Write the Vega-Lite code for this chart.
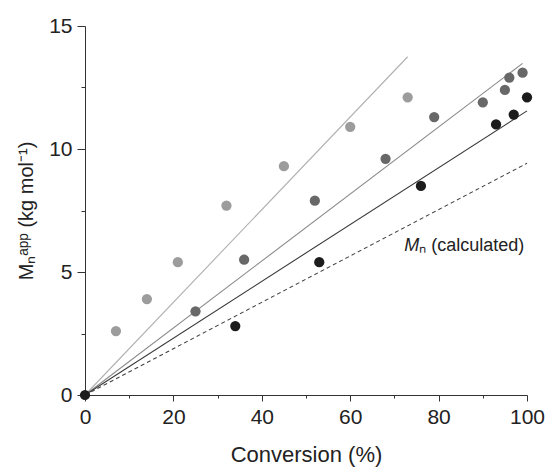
{
  "$schema": "https://vega.github.io/schema/vega-lite/v6.json",
  "autosize": "none",
  "width": 442,
  "height": 369,
  "padding": {"left": 85, "top": 26, "right": 22, "bottom": 74},
  "background": "white",
  "config": {
    "view": {"stroke": null},
    "font": "Liberation Sans",
    "axis": {
      "grid": false,
      "domainColor": "#333",
      "tickColor": "#333",
      "labelColor": "#222",
      "titleColor": "#222",
      "labelFont": "Liberation Sans",
      "titleFont": "Liberation Sans",
      "labelFontSize": 21,
      "titleFontSize": 22,
      "titleFontWeight": "normal"
    }
  },
  "datasets": {
    "points": [
      {"conv": 7, "mn": 2.6, "series": "A"},
      {"conv": 14, "mn": 3.9, "series": "A"},
      {"conv": 21, "mn": 5.4, "series": "A"},
      {"conv": 32, "mn": 7.7, "series": "A"},
      {"conv": 45, "mn": 9.3, "series": "A"},
      {"conv": 60, "mn": 10.9, "series": "A"},
      {"conv": 73, "mn": 12.1, "series": "A"},
      {"conv": 25, "mn": 3.4, "series": "B"},
      {"conv": 36, "mn": 5.5, "series": "B"},
      {"conv": 52, "mn": 7.9, "series": "B"},
      {"conv": 68, "mn": 9.6, "series": "B"},
      {"conv": 79, "mn": 11.3, "series": "B"},
      {"conv": 90, "mn": 11.9, "series": "B"},
      {"conv": 95, "mn": 12.4, "series": "B"},
      {"conv": 96, "mn": 12.9, "series": "B"},
      {"conv": 99, "mn": 13.1, "series": "B"},
      {"conv": 0, "mn": 0, "series": "C"},
      {"conv": 34, "mn": 2.8, "series": "C"},
      {"conv": 53, "mn": 5.4, "series": "C"},
      {"conv": 76, "mn": 8.5, "series": "C"},
      {"conv": 93, "mn": 11.0, "series": "C"},
      {"conv": 97, "mn": 11.4, "series": "C"},
      {"conv": 100, "mn": 12.1, "series": "C"}
    ],
    "fits": [
      {"conv": 0, "mn": 0, "series": "A"},
      {"conv": 73, "mn": 13.75, "series": "A"},
      {"conv": 0, "mn": 0, "series": "B"},
      {"conv": 99, "mn": 13.48, "series": "B"},
      {"conv": 0, "mn": 0, "series": "C"},
      {"conv": 100, "mn": 11.55, "series": "C"}
    ],
    "calc": [
      {"conv": 0, "mn": 0},
      {"conv": 100, "mn": 9.42}
    ],
    "labels": [
      {"conv": 75.6, "mn": 6.05, "a": "M", "b": "ₙ (calculated)"}
    ]
  },
  "layer": [
    {
      "data": {"name": "fits"},
      "mark": {"type": "line", "strokeWidth": 1.1},
      "encoding": {
        "x": {
          "field": "conv", "type": "quantitative",
          "scale": {"domain": [0, 100], "nice": false},
          "axis": {
            "title": "Conversion (%)",
            "values": [0, 10, 20, 30, 40, 50, 60, 70, 80, 90, 100],
            "labelExpr": "datum.value % 20 === 0 ? datum.label : ''",
            "tickSize": {"condition": {"test": "datum.value % 20 === 0", "value": 6}, "value": 3},
            "labelPadding": 5,
            "titlePadding": 17,
            "labelFlush": false
          }
        },
        "y": {
          "field": "mn", "type": "quantitative",
          "scale": {"domain": [0, 15], "nice": false},
          "axis": {
            "title": "Mₙᵃᵖᵖ (kg mol⁻¹)",
            "titleFontSize": 20,
            "values": [0, 2.5, 5, 7.5, 10, 12.5, 15],
            "labelExpr": "datum.value % 5 === 0 ? datum.label : ''",
            "tickSize": {"condition": {"test": "datum.value % 5 === 0", "value": 8}, "value": 4},
            "labelPadding": 5,
            "titlePadding": 12,
            "labelFlush": false
          }
        },
        "detail": {"field": "series"},
        "color": {
          "field": "series", "type": "nominal",
          "scale": {"domain": ["A", "B", "C"], "range": ["#b0b0b0", "#8a8a8a", "#3a3a3a"]},
          "legend": null
        }
      }
    },
    {
      "data": {"name": "calc"},
      "mark": {"type": "line", "strokeWidth": 1.1, "strokeDash": [4, 3], "color": "#444"},
      "encoding": {
        "x": {"field": "conv", "type": "quantitative"},
        "y": {"field": "mn", "type": "quantitative"}
      }
    },
    {
      "data": {"name": "points"},
      "mark": {"type": "circle", "size": 105, "opacity": 1},
      "encoding": {
        "x": {"field": "conv", "type": "quantitative"},
        "y": {"field": "mn", "type": "quantitative"},
        "fill": {
          "field": "series", "type": "nominal",
          "scale": {"domain": ["A", "B", "C"], "range": ["#9c9c9c", "#686868", "#1c1c1c"]},
          "legend": null
        },
        "order": {"field": "series"}
      }
    },
    {
      "data": {"name": "labels"},
      "mark": {"type": "text", "align": "right", "baseline": "middle", "fontSize": 18, "fontStyle": "italic", "color": "#222"},
      "encoding": {
        "x": {"field": "conv", "type": "quantitative"},
        "y": {"field": "mn", "type": "quantitative"},
        "text": {"field": "a"}
      }
    },
    {
      "data": {"name": "labels"},
      "mark": {"type": "text", "align": "left", "baseline": "middle", "fontSize": 18, "color": "#222"},
      "encoding": {
        "x": {"field": "conv", "type": "quantitative"},
        "y": {"field": "mn", "type": "quantitative"},
        "text": {"field": "b"}
      }
    }
  ],
  "resolve": {"scale": {"color": "independent"}}
}
